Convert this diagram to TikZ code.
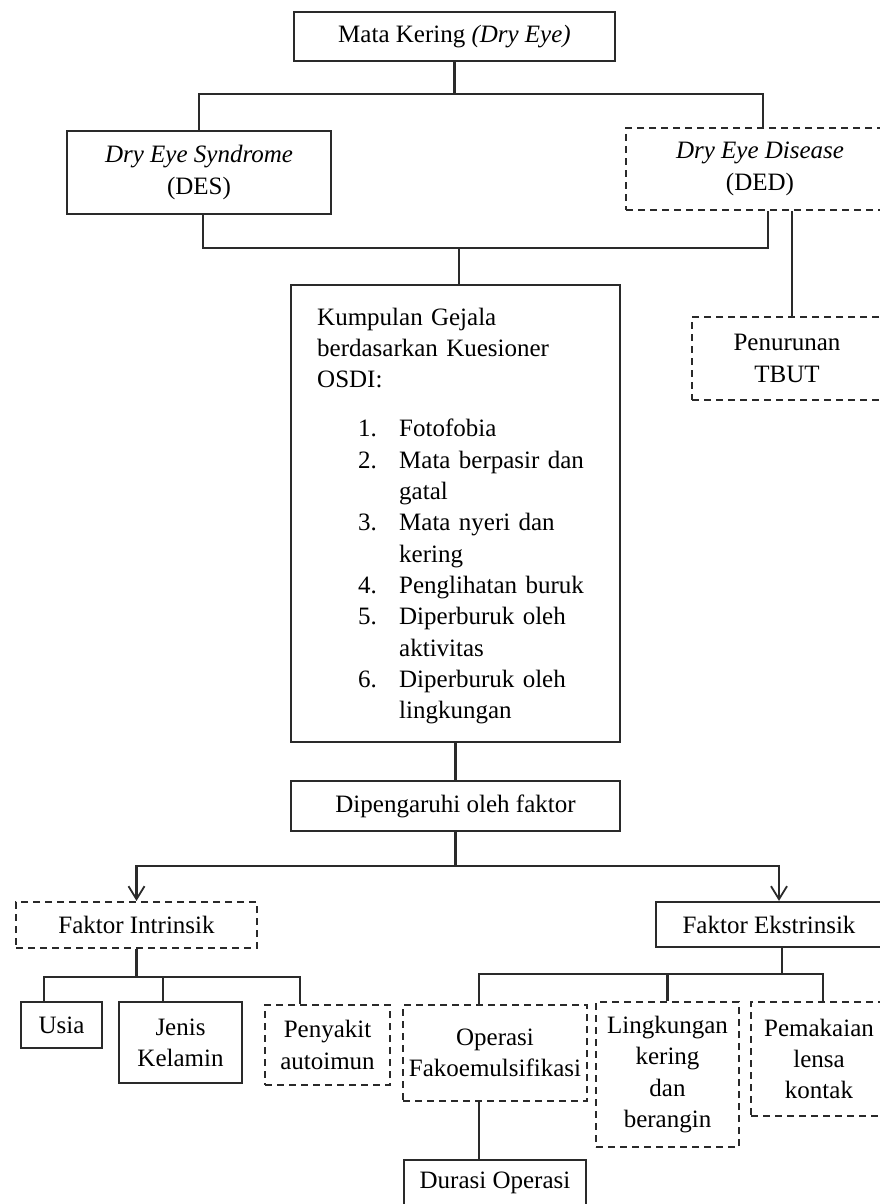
\documentclass[tikz,border=0pt]{standalone}
\usepackage{fontspec}
\setmainfont{Liberation Serif}
\usetikzlibrary{arrows.meta}
\definecolor{ln}{HTML}{2A2A2A}
\tikzset{
  every node/.style={font=\fontsize{25}{31.3}\selectfont, text=black},
  sbox/.style={draw=ln, line width=2.2pt, inner sep=0pt, align=center},
  dbox/.style={sbox, dash pattern=on 7pt off 5pt},
  conn/.style={draw=ln, line width=2.2pt},
  arr/.style={conn, -{Straight Barb[length=13pt,width=16pt,line width=1.8pt]}}
}
\begin{document}
\begin{tikzpicture}[x=1pt,y=-1pt]
\useasboundingbox (0,0) rectangle (880,1204);
\clip (0,0) rectangle (880,1204);
\fill[white] (0,0) rectangle (880,1204);

% nodes
\node[sbox, minimum width=321pt, minimum height=49pt] (top) at (454.5,36.5) {Mata Kering \textit{(Dry Eye)}};
\node[sbox, minimum width=264pt, minimum height=83pt] (des) at (199,172.5) {\textit{Dry Eye Syndrome}\\(DES)};
\node[dbox, minimum width=268pt, minimum height=82pt] (ded) at (760,169) {\textit{Dry Eye Disease}\\(DED)};
\node[dbox, minimum width=190pt, minimum height=83pt] (pen) at (787,358.5) {Penurunan\\TBUT};
\node[sbox, minimum width=329pt, minimum height=457pt] (kum) at (455.5,513.5) {};
\node[anchor=base west, text width=300pt, align=left, inner sep=0pt] (kumtext) at (317,325) {%
Kumpulan Gejala\\
berdasarkan Kuesioner\\
OSDI:\\[18pt]
\hspace*{41pt}\makebox[41pt][l]{1.}Fotofobia\\
\hspace*{41pt}\makebox[41pt][l]{2.}Mata berpasir dan\\
\hspace*{82pt}gatal\\
\hspace*{41pt}\makebox[41pt][l]{3.}Mata nyeri dan\\
\hspace*{82pt}kering\\
\hspace*{41pt}\makebox[41pt][l]{4.}Penglihatan buruk\\
\hspace*{41pt}\makebox[41pt][l]{5.}Diperburuk oleh\\
\hspace*{82pt}aktivitas\\
\hspace*{41pt}\makebox[41pt][l]{6.}Diperburuk oleh\\
\hspace*{82pt}lingkungan};
\node[sbox, minimum width=329pt, minimum height=50pt] (dip) at (455.5,806) {Dipengaruhi oleh faktor};
\node[dbox, minimum width=241pt, minimum height=46pt] (fi) at (136.5,925) {Faktor Intrinsik};
\node[sbox, minimum width=226pt, minimum height=45pt] (fe) at (769,924.5) {Faktor Ekstrinsik};
\node[sbox, minimum width=81pt, minimum height=46pt] (usia) at (61.5,1025) {Usia};
\node[sbox, minimum width=123pt, minimum height=81pt] (jk) at (180.5,1042.5) {Jenis\\Kelamin};
\node[dbox, minimum width=125pt, minimum height=80pt] (pa) at (327.5,1045) {Penyakit\\autoimun};
\node[dbox, minimum width=184pt, minimum height=96pt] (op) at (495,1053) {Operasi\\Fakoemulsifikasi};
\node[dbox, minimum width=143pt, minimum height=145pt] (lk) at (667.5,1074.5) {Lingkungan\\kering\\dan\\berangin};
\node[dbox, minimum width=136pt, minimum height=114pt] (pk) at (819,1059) {Pemakaian\\lensa\\kontak};
\node[sbox, minimum width=182pt, minimum height=46pt] (dur) at (495,1183) {Durasi Operasi};

% junctions
\coordinate (j1) at (453,94);
\coordinate (j2) at (459,248);
\coordinate (j3) at (455,866);
\coordinate (j4) at (138,977);
\coordinate (j5) at (782,974);

% connectors
\draw[conn] (top.south) -- (top.south |- j1);
\draw[conn] (des.north) |- ([xshift=3pt]ded.north |- j1) -- ([xshift=3pt]ded.north);
\draw[conn] ([xshift=4pt]des.south) |- ([xshift=8pt]ded.south |- j2) -- ([xshift=8pt]ded.south);
\draw[conn] (j2) -- (j2 |- kum.north);
\draw[conn] ([xshift=32pt]ded.south) -- ([xshift=32pt]ded.south |- pen.north);
\draw[conn] (kum.south) -- (kum.south |- dip.north);
\draw[conn] (dip.south) -- (dip.south |- j3);
\draw[arr] (j3) -| (fi.north);
\draw[arr] (j3) -| ([xshift=10pt]fe.north);
\draw[conn] (fi.south) -- (fi.south |- j4);
\draw[conn] ([xshift=-17.5pt]usia.north) |- ([xshift=-27.5pt]pa.north |- j4) -- ([xshift=-27.5pt]pa.north);
\draw[conn] ([xshift=-17.5pt]jk.north) -- ([xshift=-17.5pt]jk.north |- j4);
\draw[conn] ([xshift=13pt]fe.south) -- ([xshift=13pt]fe.south |- j5);
\draw[conn] ([xshift=-16pt]op.north) |- ([xshift=4pt]pk.north |- j5) -- ([xshift=4pt]pk.north);
\draw[conn] (lk.north) -- (lk.north |- j5);
\draw[conn] ([xshift=-16pt]op.south) -- ([xshift=-16pt]op.south |- dur.north);
\end{tikzpicture}
\end{document}
